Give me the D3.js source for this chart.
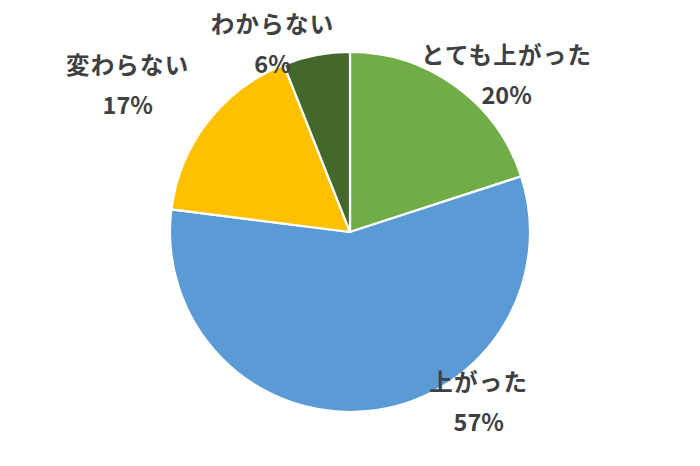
<!DOCTYPE html>
<html><head><meta charset="utf-8">
<script src="https://cdn.jsdelivr.net/npm/d3@7"></script>
<style>
html,body{margin:0;padding:0;background:#fff;}
svg{display:block;}
</style></head>
<body>
<svg id="chart" width="700" height="466"></svg>
<script>
// ---- data ----
const categories = ["とても上がった", "上がった", "変わらない", "わからない"];
const values = [20, 57, 17, 6];
const colors = ["#70AD47", "#5B9BD5", "#FFC000", "#43682B"];

// ---- layout ----
const W = 700, H = 466;
const cx = 350, cy = 232, R = 180;
// label anchor offsets (in radius units) relative to the pie centre, Excel "best fit" style
const labelOffsets = [[0.87, -0.88], [0.715, 0.94], [-1.235, -0.82], [-0.43, -1.05]];

const svg = d3.select("#chart");
const g = svg.append("g").attr("transform", `translate(${cx},${cy})`);

const pie = d3.pie().sort(null).value(d => d.v);
const arc = d3.arc().innerRadius(0).outerRadius(R);
const data = categories.map((c, i) => ({ c, v: values[i], col: colors[i] }));
const arcs = pie(data);

g.selectAll("path").data(arcs).join("path")
  .attr("d", arc)
  .attr("fill", d => d.data.col)
  .attr("stroke", "#fff")
  .attr("stroke-width", 2.2)
  .attr("stroke-linejoin", "round");

const lbl = g.selectAll("g.lbl").data(arcs).join("g")
  .attr("class", "lbl")
  .attr("transform", (d, i) => `translate(${labelOffsets[i][0] * R},${labelOffsets[i][1] * R})`);

const fontFam = "'Noto Sans CJK JP','Noto Sans',sans-serif";
lbl.append("text")
  .attr("text-anchor", "middle")
  .attr("dominant-baseline", "central")
  .attr("y", -20)
  .attr("font-family", fontFam)
  .attr("font-weight", "bold")
  .attr("font-size", 23.5)
  .attr("letter-spacing", 1.2)
  .attr("fill", "#404040")
  .text(d => d.data.c);
lbl.append("text")
  .attr("text-anchor", "middle")
  .attr("dominant-baseline", "central")
  .attr("y", 20)
  .attr("font-family", fontFam)
  .attr("font-weight", "bold")
  .attr("font-size", 23.5)
  .attr("fill", "#404040")
  .text(d => d.data.v + "%");
</script>
</body></html>
